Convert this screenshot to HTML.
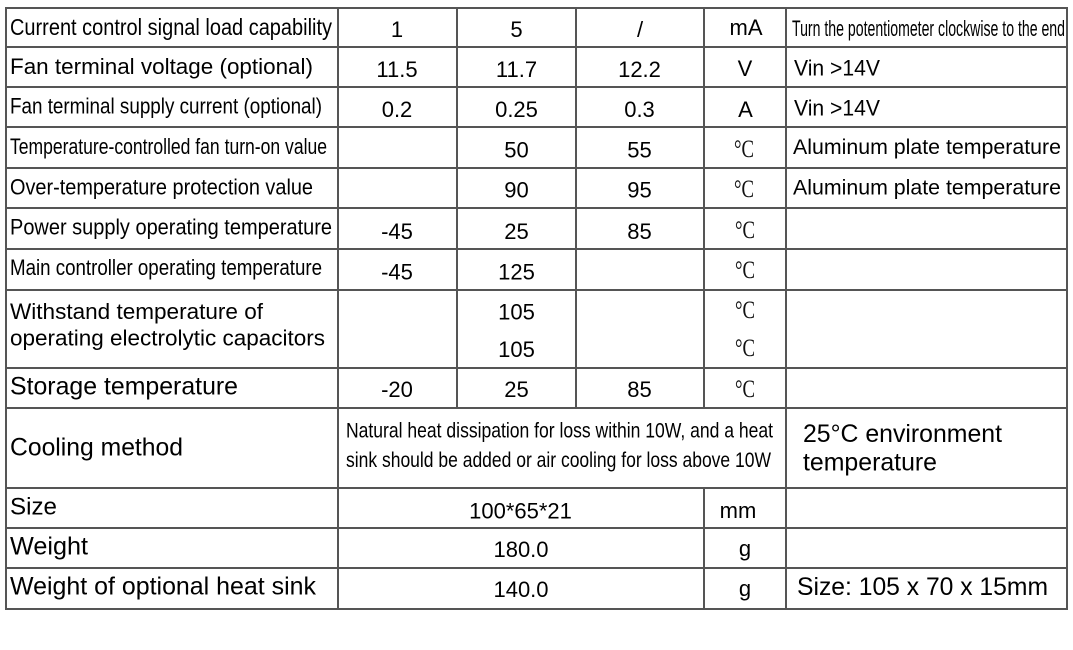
<!DOCTYPE html>
<html>
<head>
<meta charset="utf-8">
<style>
html,body{margin:0;padding:0;background:#fff;}
svg{display:block;}
.l{font-family:"Liberation Sans",Arial,sans-serif;fill:#000;}
.v{font-family:"Liberation Sans",Arial,sans-serif;fill:#000;font-size:22px;}
.d{font-family:"Liberation Serif","Times New Roman",serif;fill:#111;font-size:25px;}
</style>
</head>
<body>
<svg width="1073" height="650" viewBox="0 0 1073 650" xmlns="http://www.w3.org/2000/svg">
<rect width="1073" height="650" fill="#fff"/>
<g stroke="#555" stroke-width="2" fill="none">
  <line x1="5" y1="8" x2="1068" y2="8"/>
  <line x1="5" y1="47" x2="1068" y2="47"/>
  <line x1="5" y1="87" x2="1068" y2="87"/>
  <line x1="5" y1="127" x2="1068" y2="127"/>
  <line x1="5" y1="168" x2="1068" y2="168"/>
  <line x1="5" y1="208" x2="1068" y2="208"/>
  <line x1="5" y1="249" x2="1068" y2="249"/>
  <line x1="5" y1="290" x2="1068" y2="290"/>
  <line x1="5" y1="368" x2="1068" y2="368"/>
  <line x1="5" y1="408" x2="1068" y2="408"/>
  <line x1="5" y1="488" x2="1068" y2="488"/>
  <line x1="5" y1="528" x2="1068" y2="528"/>
  <line x1="5" y1="568" x2="1068" y2="568"/>
  <line x1="5" y1="609" x2="1068" y2="609"/>
  <line x1="6" y1="7" x2="6" y2="610"/>
  <line x1="338" y1="7" x2="338" y2="610"/>
  <line x1="457" y1="7" x2="457" y2="408"/>
  <line x1="576" y1="7" x2="576" y2="408"/>
  <line x1="704" y1="7" x2="704" y2="408"/>
  <line x1="704" y1="488" x2="704" y2="610"/>
  <line x1="786" y1="7" x2="786" y2="610"/>
  <line x1="1067" y1="7" x2="1067" y2="610"/>
</g>

<text class="l" x="10" y="35" font-size="23" textLength="322" lengthAdjust="spacingAndGlyphs">Current control signal load capability</text>
<text class="l" x="10" y="74" font-size="22.4" textLength="303" lengthAdjust="spacingAndGlyphs">Fan terminal voltage (optional)</text>
<text class="l" x="10" y="113.5" font-size="22" textLength="312" lengthAdjust="spacingAndGlyphs">Fan terminal supply current (optional)</text>
<text class="l" x="10" y="154" font-size="22" textLength="317" lengthAdjust="spacingAndGlyphs">Temperature-controlled fan turn-on value</text>
<text class="l" x="10" y="194.5" font-size="22" textLength="303" lengthAdjust="spacingAndGlyphs">Over-temperature protection value</text>
<text class="l" x="10" y="234.5" font-size="22.5" textLength="322" lengthAdjust="spacingAndGlyphs">Power supply operating temperature</text>
<text class="l" x="10" y="275" font-size="22" textLength="312" lengthAdjust="spacingAndGlyphs">Main controller operating temperature</text>
<text class="l" x="10" y="319" font-size="22.5" textLength="253" lengthAdjust="spacingAndGlyphs">Withstand temperature of</text>
<text class="l" x="10" y="345.5" font-size="22.5" textLength="315" lengthAdjust="spacingAndGlyphs">operating electrolytic capacitors</text>
<text class="l" x="10" y="394.5" font-size="24.8" textLength="228" lengthAdjust="spacingAndGlyphs">Storage temperature</text>
<text class="l" x="10" y="455.5" font-size="24.7" textLength="173" lengthAdjust="spacingAndGlyphs">Cooling method</text>
<text class="l" x="10" y="514.5" font-size="24.5" textLength="47" lengthAdjust="spacingAndGlyphs">Size</text>
<text class="l" x="10" y="554.5" font-size="25" textLength="78" lengthAdjust="spacingAndGlyphs">Weight</text>
<text class="l" x="10" y="594.5" font-size="25" textLength="306" lengthAdjust="spacingAndGlyphs">Weight of optional heat sink</text>

<g class="v" text-anchor="middle">
  <text x="397" y="37">1</text>
  <text x="516.5" y="37">5</text>
  <text x="640" y="37">/</text>
  <text x="397" y="77">11.5</text>
  <text x="516.5" y="77">11.7</text>
  <text x="639.5" y="77">12.2</text>
  <text x="397" y="117">0.2</text>
  <text x="516.5" y="117">0.25</text>
  <text x="639.5" y="117">0.3</text>
  <text x="516.5" y="157.5">50</text>
  <text x="639.5" y="157.5">55</text>
  <text x="516.5" y="197.5">90</text>
  <text x="639.5" y="197.5">95</text>
  <text x="397" y="239">-45</text>
  <text x="516.5" y="239">25</text>
  <text x="639.5" y="239">85</text>
  <text x="397" y="279.5">-45</text>
  <text x="516.5" y="279.5">125</text>
  <text x="516.5" y="319.5">105</text>
  <text x="516.5" y="357">105</text>
  <text x="397" y="397">-20</text>
  <text x="516.5" y="397">25</text>
  <text x="639.5" y="397">85</text>
  <text x="520.5" y="518.5">100*65*21</text>
  <text x="521" y="557">180.0</text>
  <text x="521" y="597">140.0</text>
  <text x="746" y="35">mA</text>
  <text x="745" y="76">V</text>
  <text x="745.5" y="117">A</text>
  <text x="738" y="518">mm</text>
  <text x="745" y="556">g</text>
  <text x="745" y="596">g</text>
</g>
<g class="d" text-anchor="middle">
  <text x="744" y="157" textLength="20" lengthAdjust="spacingAndGlyphs">°C</text>
  <text x="744" y="197" textLength="20" lengthAdjust="spacingAndGlyphs">°C</text>
  <text x="745" y="238" textLength="20" lengthAdjust="spacingAndGlyphs">°C</text>
  <text x="745" y="278" textLength="20" lengthAdjust="spacingAndGlyphs">°C</text>
  <text x="745" y="318" textLength="20" lengthAdjust="spacingAndGlyphs">°C</text>
  <text x="745" y="356" textLength="20" lengthAdjust="spacingAndGlyphs">°C</text>
  <text x="745" y="397" textLength="20" lengthAdjust="spacingAndGlyphs">°C</text>
</g>

<text class="l" x="792" y="36" font-size="22" textLength="273" lengthAdjust="spacingAndGlyphs">Turn the potentiometer clockwise to the end</text>
<text class="l" x="794" y="75.5" font-size="22" textLength="86" lengthAdjust="spacingAndGlyphs">Vin &gt;14V</text>
<text class="l" x="794" y="115.5" font-size="22" textLength="86" lengthAdjust="spacingAndGlyphs">Vin &gt;14V</text>
<text class="l" x="793" y="154" font-size="21.5" textLength="268" lengthAdjust="spacingAndGlyphs">Aluminum plate temperature</text>
<text class="l" x="793" y="194.5" font-size="21.5" textLength="268" lengthAdjust="spacingAndGlyphs">Aluminum plate temperature</text>

<text class="l" x="346" y="437.5" font-size="21.5" textLength="427" lengthAdjust="spacingAndGlyphs">Natural heat dissipation for loss within 10W, and a heat</text>
<text class="l" x="346" y="467" font-size="21.5" textLength="425" lengthAdjust="spacingAndGlyphs">sink should be added or air cooling for loss above 10W</text>
<text class="l" x="803" y="442" font-size="24.8" textLength="199" lengthAdjust="spacingAndGlyphs">25°C environment</text>
<text class="l" x="803" y="470.5" font-size="24.8" textLength="134" lengthAdjust="spacingAndGlyphs">temperature</text>

<text class="l" x="797" y="595" font-size="24.7" textLength="251" lengthAdjust="spacingAndGlyphs">Size: 105 x 70 x 15mm</text>
</svg>
</body>
</html>
